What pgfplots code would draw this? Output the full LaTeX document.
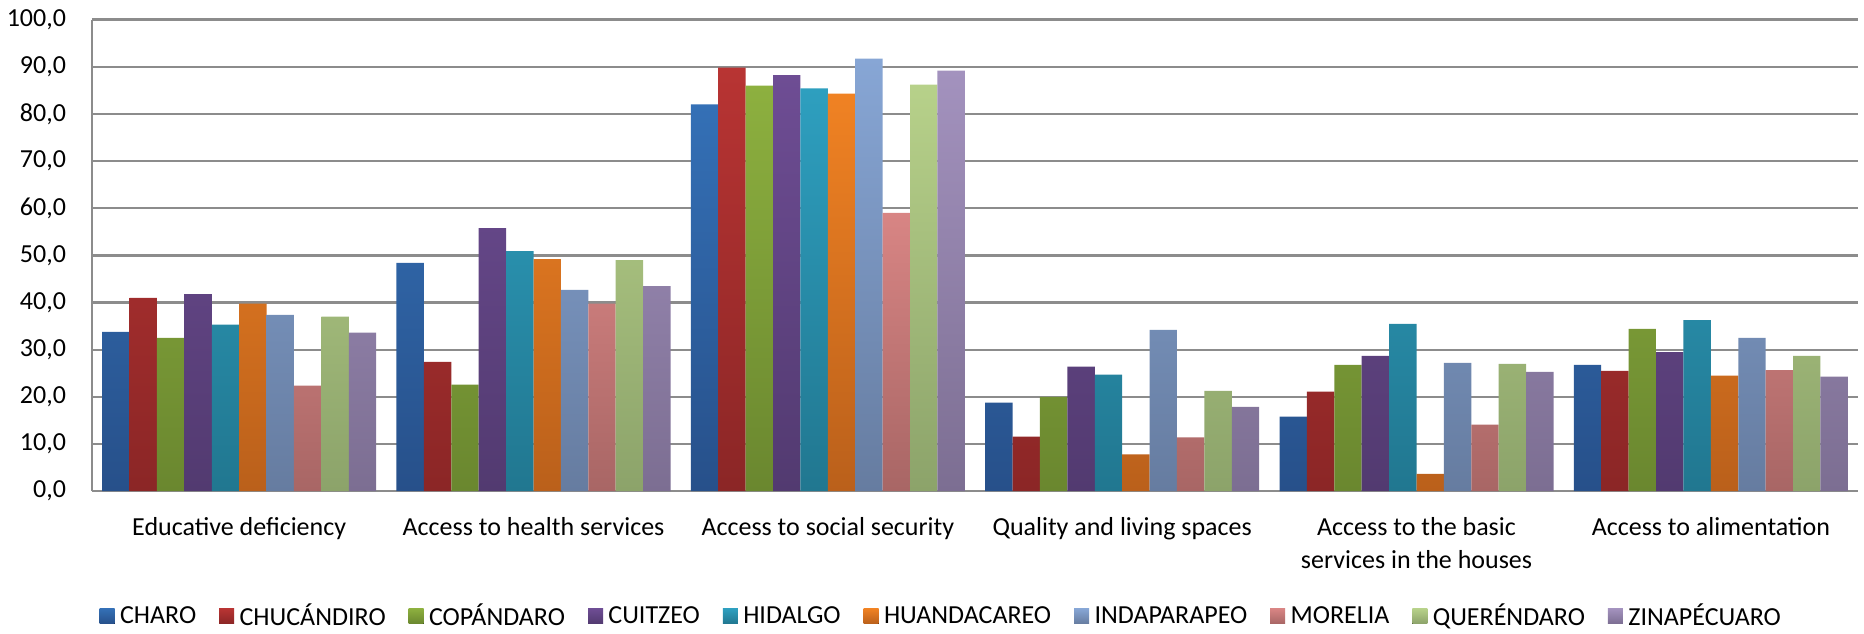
\documentclass[border=0pt]{standalone}
\usepackage{fontspec}
\setmainfont{Carlito}
\usepackage{pgfplots}
\usepackage{pgfplotstable}
\pgfplotsset{compat=1.18}

\definecolor{c1t}{HTML}{3470B6}\definecolor{c1b}{HTML}{27508A}
\definecolor{c2t}{HTML}{B83433}\definecolor{c2b}{HTML}{8B2626}
\definecolor{c3t}{HTML}{8DB03F}\definecolor{c3b}{HTML}{6A872F}
\definecolor{c4t}{HTML}{6E4D94}\definecolor{c4b}{HTML}{523A70}
\definecolor{c5t}{HTML}{2E9FBF}\definecolor{c5b}{HTML}{217790}
\definecolor{c6t}{HTML}{F08223}\definecolor{c6b}{HTML}{BA601B}
\definecolor{c7t}{HTML}{87A6D5}\definecolor{c7b}{HTML}{667CA0}
\definecolor{c8t}{HTML}{D88584}\definecolor{c8b}{HTML}{A86665}
\definecolor{c9t}{HTML}{B7D18A}\definecolor{c9b}{HTML}{8CA36A}
\definecolor{c10t}{HTML}{A392BE}\definecolor{c10b}{HTML}{7C6E92}
\definecolor{gridc}{HTML}{8C8C8C}

\pgfplotstableread{
x CHARO CHUC COP CUIT HID HUAN INDAP MOR QUER ZINA
0 33.8 41.0 32.5 41.8 35.3 39.8 37.4 22.4 37.0 33.6
1 48.4 27.4 22.6 55.8 50.9 49.2 42.7 39.8 49.0 43.5
2 82.0 89.8 86.0 88.2 85.4 84.3 91.7 59.0 86.2 89.2
3 18.8 11.6 20.0 26.4 24.7 7.8 34.2 11.4 21.3 17.9
4 15.8 21.1 26.8 28.7 35.5 3.7 27.2 14.1 27.0 25.3
5 26.8 25.5 34.4 29.5 36.3 24.5 32.5 25.7 28.7 24.3
}\data

\begin{document}
\begin{tikzpicture}
\begin{axis}[
  name=ax,
  scale only axis,
  width=883bp, height=235.8bp,
  ybar=0pt, bar width=0.0931,
  xmin=-0.5, xmax=5.5,
  ymin=0, ymax=100,
  ytick={0,10,...,100},
  xtick={0,1,2,3,4,5},
  xticklabels={Educative deficiency, Access to health services, Access to social security, Quality and living spaces, {Access to the basic\\services in the houses}, Access to alimentation},
  xticklabel style={align=center, font=\fontsize{13bp}{16.5bp}\selectfont, anchor=north, yshift=-9.5bp},
  yticklabel style={font=\fontsize{13bp}{15bp}\selectfont, xshift=-9.5bp},
  /pgf/number format/.cd, fixed, fixed zerofill, precision=1, use comma, assume math mode=true,
  /pgfplots/.cd,
  ymajorgrids,
  grid style={gridc, line width=1.1bp},
  axis x line*=bottom, axis y line*=left,
  axis line style={gridc, line width=1.1bp, -},
  major tick length=0pt,
  legend columns=-1,
  legend style={at={(0.481,-0.265)}, anchor=center, draw=none, font=\fontsize{13bp}{15bp}\selectfont,
    nodes={inner xsep=1.2bp},
    /tikz/every odd column/.append style={column sep=1.5bp},
    /tikz/every even column/.append style={column sep=10.3bp}},
  legend image code/.code={\fill[#1] (0bp,-3.75bp) rectangle (7.5bp,3.75bp);},
]
\addplot[draw=none, top color=c1t, bottom color=c1b] table[x=x,y=CHARO]{\data};
\addplot[draw=none, top color=c2t, bottom color=c2b] table[x=x,y=CHUC]{\data};
\addplot[draw=none, top color=c3t, bottom color=c3b] table[x=x,y=COP]{\data};
\addplot[draw=none, top color=c4t, bottom color=c4b] table[x=x,y=CUIT]{\data};
\addplot[draw=none, top color=c5t, bottom color=c5b] table[x=x,y=HID]{\data};
\addplot[draw=none, top color=c6t, bottom color=c6b] table[x=x,y=HUAN]{\data};
\addplot[draw=none, top color=c7t, bottom color=c7b] table[x=x,y=INDAP]{\data};
\addplot[draw=none, top color=c8t, bottom color=c8b] table[x=x,y=MOR]{\data};
\addplot[draw=none, top color=c9t, bottom color=c9b] table[x=x,y=QUER]{\data};
\addplot[draw=none, top color=c10t, bottom color=c10b] table[x=x,y=ZINA]{\data};
\legend{CHARO, CHUCÁNDIRO, COPÁNDARO, CUITZEO, HIDALGO, HUANDACAREO, INDAPARAPEO, MORELIA, QUERÉNDARO, ZINAPÉCUARO}
\end{axis}
\pgfresetboundingbox
\useasboundingbox ([shift={(-46bp,-71.2bp)}]ax.south west) rectangle ([shift={(3bp,9.8bp)}]ax.north east);
\end{tikzpicture}
\end{document}
